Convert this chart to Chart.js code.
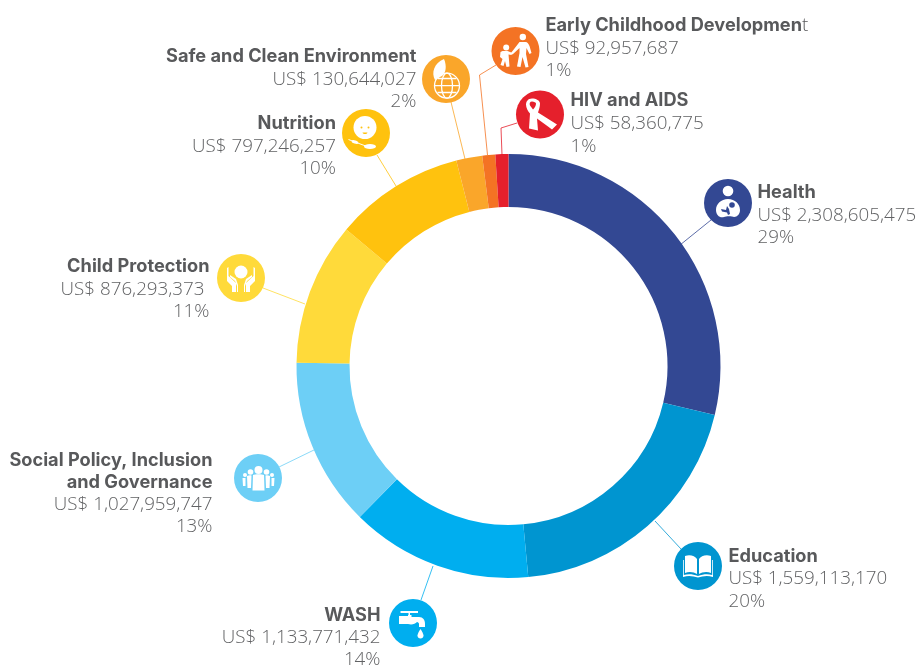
<!DOCTYPE html>
<html>
<head>
<meta charset="utf-8">
<title>Expenses by sector</title>
<script src="https://cdn.jsdelivr.net/npm/chart.js@4"></script>
<style>
html, body { margin: 0; padding: 0; background: #fff; }
#wrap { position: relative; width: 920px; height: 666px; }
</style>
</head>
<body>
<div id="wrap"><canvas id="donut" width="920" height="666"></canvas></div>
<script>
// Data
var categories = ["Health", "Education", "WASH", "Social Policy, Inclusion and Governance", "Child Protection", "Nutrition", "Safe and Clean Environment", "Early Childhood Development", "HIV and AIDS"];
var amounts = [2308605475, 1559113170, 1133771432, 1027959747, 876293373, 797246257, 130644027, 92957687, 58360775];
var percents = [29, 20, 14, 13, 11, 10, 2, 1, 1];
var colors = ["#334893", "#0095D0", "#00AEEF", "#6DCFF6", "#FFDA3A", "#FFC20E", "#FAA62A", "#F47324", "#E5202C"];

// Where the callouts sit: icon centre, leader line, text anchor and the baselines
var callouts = [
    { icon: [728, 203], line: [[711, 220], [680, 245]], x: 757.5, align: "left", lines: ["Health"], base: [198, 221, 243] },
    { icon: [698, 566], line: [[681, 549], [655, 521]], x: 728.5, align: "left", lines: ["Education"], base: [562, 584, 607] },
    { icon: [413, 623], line: [[421, 600], [433, 566]], x: 380.5, align: "right", lines: ["WASH"], base: [621, 643, 665] },
    { icon: [258, 478], line: [[279, 467], [316, 449]], x: 212.5, align: "right", lines: ["Social Policy, Inclusion", "and Governance"], base: [466, 488, 510, 532] },
    { icon: [241, 278], line: [[263, 288], [305, 304]], x: 209.5, valueX: 204.5, align: "right", lines: ["Child Protection"], base: [272, 295, 317] },
    { icon: [366, 133], line: [[377, 155], [396, 186]], x: 336, align: "right", lines: ["Nutrition"], base: [129, 152, 174] },
    { icon: [446, 79], line: [[451, 102], [465, 159]], x: 416.5, align: "right", lines: ["Safe and Clean Environment"], base: [62, 85, 107] },
    { icon: [515.5, 51], line: [[496, 65], [479.5, 75], [487.5, 155]], x: 545.5, align: "left", lines: ["Early Childhood Developmen"], tail: "t", base: [31, 54, 76] },
    { icon: [540, 114.5], line: [[517, 123], [501, 128], [502, 155]], x: 570.5, align: "left", lines: ["HIV and AIDS"], base: [106, 129, 152] }
];

var ICON_R = 24;
var TITLE_FONT = "bold 18.2px Inter, sans-serif";
var VALUE_FONT = "300 18.8px 'Open Sans', sans-serif";
var TITLE_COLOR = "#58595B";
var VALUE_COLOR = "#616264";

// White pictograms, drawn around 0,0 inside a 24px radius circle
var icons = [
    function (c, bg) { // mother and baby
        dot(c, 0, -12, 5.3);
        c.fill(new Path2D("M-12 7C-12 1-7-4 0-4C7-4 12 1 12 7C12 12 8 15 4 13.5C2 13-2 13-4 14C-8 15.5-12 12-12 7Z"));
        c.fillStyle = bg;
        dot(c, 4, 2, 2.8);
        c.fill(new Path2D("M-7 6L-2 7L-1 3L1 6L2 11L0 12L-1 9.5L-6 8.5Z"));
    },
    function (c) { // open book
        c.fill(new Path2D("M-13 -10C-8 -12 -3 -10 -1 -7L-1 8C-4 6 -9 5 -13 7ZM13 -10C8 -12 3 -10 1 -7L1 8C4 6 9 5 13 7Z"));
        c.fill(new Path2D("M-15 -6L-14.2 -6L-14.2 9C-10 7.5 -5 8 0 10C5 8 10 7.5 14.2 9L14.2 -6L15 -6L15 11C10 9.5 5 10 0 11.5C-5 10 -10 9.5 -15 11Z"));
    },
    function (c) { // tap and drop
        c.fill(new Path2D("M-12.5 -12H5V-10H-3V-8H-1.5V-6H6C10 -6 12 -3 12 1V4H6V1C6 0 5 -1 4 -1C2 1 -1 2 -5 1H-14V-7H-5V-8H-4.5V-10H-12.5Z"));
        c.fill(new Path2D("M7.5 6C7.5 6 4.5 10.5 4.5 12.5C4.5 14.2 5.8 15.5 7.5 15.5C9.2 15.5 10.5 14.2 10.5 12.5C10.5 10.5 7.5 6 7.5 6Z"));
    },
    function (c) { // group of people
        dot(c, 0.5, -8, 4); dot(c, -7.5, -6, 2.8); dot(c, 8.5, -6, 2.8); dot(c, -13, -3, 2); dot(c, 14, -3, 2);
        c.fill(new Path2D("M-5 -3C-3 -4 4 -4 6 -3L6.5 12.5H-5.5Z"));
        c.fill(new Path2D("M-11 -2C-9 -3 -7.5 -3 -6.5 -2.5L-7 10H-10.5ZM12 -2C10 -3 8.5 -3 7.5 -2.5L8 10H11.5Z"));
        c.fill(new Path2D("M-15.5 0H-12.5L-12.5 8H-15ZM16.5 0H13.5L13.5 8H16Z"));
    },
    function (c) { // hands holding a child
        dot(c, 0, -6, 6.5);
        c.fill(new Path2D("M-14 -10L-12.5 -11V-2L-5 5V14H-9V8L-14 3ZM14 -10L12.5 -11V-2L5 5V14H9V8L14 3Z"));
        c.fill(new Path2D("M-11 -3L-5 1L-3 7V14H-4V8L-6 3L-11 -1ZM11 -3L5 1L3 7V14H4V8L6 3L11 -1Z"));
    },
    function (c, bg) { // child's face and spoon
        dot(c, -1, -5.5, 11.5);
        c.fillStyle = bg;
        dot(c, -4.5, -5.5, 1); dot(c, 2.5, -5.5, 1);
        c.fill(new Path2D("M-3.5 -0.5H1.5C1 1.5 -3 1.5 -3.5 -0.5Z"));
        c.fillStyle = "#fff";
        c.strokeStyle = "#fff"; c.lineWidth = 1;
        c.beginPath(); c.ellipse(4, 13.5, 6, 2.5, 0, 0, 7); c.fill();
        c.beginPath(); c.moveTo(-17.5, 6.5); c.lineTo(-3, 12); c.lineTo(0, 13); c.stroke();
        c.beginPath(); c.ellipse(-11, 9, 3.5, 1.6, 0.3, 0, 7); c.fill();
    },
    function (c) { // leaf and globe
        c.fill(new Path2D("M-11 1C-15 -6 -12 -16 -2 -20C1 -13 0 -6 -4 -3C-6 -2 -8 -1 -11 1Z"));
        c.strokeStyle = "#fff"; c.lineWidth = 1.3;
        c.beginPath(); c.arc(1, 6.7, 12.5, 0, 7); c.stroke();
        c.beginPath(); c.ellipse(1, 6.7, 5.5, 12.5, 0, 0, 7); c.stroke();
        c.beginPath();
        c.moveTo(-11.5, 6.7); c.lineTo(13.5, 6.7);
        c.moveTo(-8.5, -0.5); c.lineTo(10.5, -0.5);
        c.moveTo(-8.5, 13.5); c.lineTo(10.5, 13.5);
        c.stroke();
    },
    function (c) { // adult walking with a child
        dot(c, 7.3, -14, 3.2); dot(c, -9.3, -3.5, 3);
        c.fill(new Path2D("M4 -9H10C12 -9 13 -7 14 -5L16 2L14 3L11 -3L10.5 3L13 16L10 16.5L7 6L5 16L1.5 15.5L4 2L4 -3L-3 3.5L-4.5 2Z"));
        c.fill(new Path2D("M-13 0H-8L-3 2L-4 4L-7 3.5L-6.5 9L-6 15.5L-9 16L-10.5 10L-12 15L-15 14L-13 8L-15.5 6L-15 1Z"));
    },
    function (c) { // red ribbon
        c.fill(new Path2D("M-8 -16C-12 -16 -14 -13 -14 -10C-14 -7 -12 -3 -10 -1L-11 14L-2 16L-3 4L8 12L12 15L17 10L-2 -2C-1 -5 0 -8 0 -11C0 -14 -4 -16 -8 -16ZM-8 -13C-10 -13 -11 -11 -10 -9L-7 -5C-5 -7 -4 -9 -4 -11C-4 -12 -6 -13 -8 -13Z"), "evenodd");
    }
];

function dot(c, x, y, r) {
    c.beginPath();
    c.arc(x, y, r, 0, Math.PI * 2);
    c.fill();
}

function money(v) {
    return "US$ " + v.toLocaleString("en-US");
}

var calloutPlugin = {
    id: "callouts",
    afterDatasetsDraw: function (chart) {
        var c = chart.ctx;
        callouts.forEach(function (o, i) {
            c.save();
            // leader line
            c.strokeStyle = colors[i];
            c.lineWidth = 0.8;
            c.beginPath();
            o.line.forEach(function (p, k) {
                if (k == 0) c.moveTo(p[0], p[1]); else c.lineTo(p[0], p[1]);
            });
            c.stroke();

            // icon badge
            c.fillStyle = colors[i];
            dot(c, o.icon[0], o.icon[1], ICON_R);
            c.translate(o.icon[0], o.icon[1]);
            c.fillStyle = "#fff";
            icons[i](c, colors[i]);
            c.restore();

            // text
            c.save();
            c.textAlign = o.align;
            c.textBaseline = "alphabetic";
            c.font = TITLE_FONT;
            c.fillStyle = TITLE_COLOR;
            o.lines.forEach(function (t, k) {
                c.fillText(t, o.x, o.base[k]);
            });
            var n = o.lines.length;
            if (o.tail) {
                var w = c.measureText(o.lines[0]).width;
                c.font = VALUE_FONT;
                c.fillText(o.tail, o.x + w, o.base[0]);
            }
            c.font = VALUE_FONT;
            c.fillStyle = VALUE_COLOR;
            c.fillText(money(amounts[i]), o.valueX || o.x, o.base[n]);
            c.fillText(percents[i] + "%", o.x, o.base[n + 1]);
            c.restore();
        });
    }
};

var ctx = document.getElementById("donut").getContext("2d");

// the slices in the original follow the rounded percentages, not the dollar amounts
var chart = new Chart(ctx, {
    type: "doughnut",
    data: {
        labels: categories,
        datasets: [{
            data: percents,
            backgroundColor: colors,
            borderWidth: 0
        }]
    },
    options: {
        responsive: false,
        animation: false,
        cutout: "75%",
        layout: { padding: { left: 97, top: 154, bottom: 88, right: 0 } },
        plugins: {
            legend: { display: false },
            tooltip: { enabled: false }
        }
    },
    plugins: [calloutPlugin]
});
</script>
</body>
</html>
